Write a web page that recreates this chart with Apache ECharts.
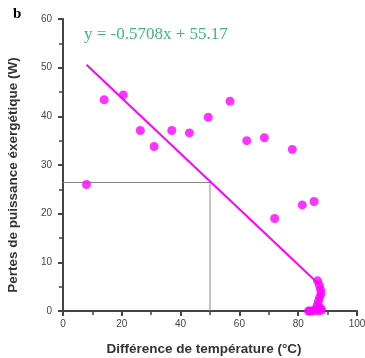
<!DOCTYPE html>
<html>
<head>
<meta charset="utf-8">
<script src="https://cdn.jsdelivr.net/npm/echarts@6/dist/echarts.min.js"></script>
<style>
  html, body { margin: 0; padding: 0; background: #fff; }
  #chart { width: 365px; height: 358px; }
</style>
</head>
<body>
<div id="chart"></div>
<script>
// measured points (temperature difference, exergy loss)
const tempDiff = [8, 14, 20.5, 26.3, 31, 37, 43, 49.4, 56.8, 62.5, 68.5, 78, 72, 81.4, 85.4,
  86.6, 87.2, 87.6, 87.8, 87.3, 86.9, 86.5, 87.6, 86, 85, 84, 83.5, 88, 86.8];
const exergyLoss = [26, 43.4, 44.4, 37.1, 33.8, 37.1, 36.6, 39.8, 43.1, 35, 35.6, 33.2, 19, 21.8, 22.5,
  6.2, 5.3, 4.4, 3.6, 2.8, 2, 1.2, 0.6, 0.4, 0, 0, 0, 0.2, 0];

// fitted line endpoints, y = -0.5708x + 55.17
const fitX = [8, 86.7];
const fitY = [50.6, 5.7];

// guide lines read at x = 50
const guideX = [0, 50, 50];
const guideY = [26.4, 26.4, 0];

const xTicks = [0, 20, 40, 60, 80, 100];
const yTicks = [0, 10, 20, 30, 40, 50, 60];

const chart = echarts.init(document.getElementById('chart'));

const axisCommon = {
  axisLine: { show: true, onZero: false, lineStyle: { color: '#444', width: 2 } },
  axisTick: { show: true, inside: false, length: 5, lineStyle: { color: '#444', width: 2 } },
  minorTick: { show: true, splitNumber: 2, length: 4, lineStyle: { color: '#444', width: 1.5 } },
  splitLine: { show: false },
  axisLabel: { color: '#444', fontSize: 10, fontFamily: 'Liberation Sans, Arial' }
};

chart.setOption({
  animation: false,
  backgroundColor: '#fff',
  title: [
    { text: 'b', left: 8, top: 2, textStyle: { fontFamily: 'Liberation Serif', fontWeight: 'bold', fontSize: 15, color: '#000' } },
    { text: 'y = -0.5708x + 55.17', left: 79, top: 21, textStyle: { fontFamily: 'Liberation Serif', fontWeight: 'normal', fontSize: 17, color: '#3cb878' } }
  ],
  grid: { left: 63, right: 8, top: 19, bottom: 47, outerBoundsMode: 'none', containLabel: false },
  xAxis: Object.assign({}, axisCommon, {
    type: 'value', min: xTicks[0], max: xTicks[xTicks.length - 1], interval: 20,
    name: 'Différence de température (°C)', nameLocation: 'middle', nameGap: 31,
    nameTextStyle: { color: '#333', fontSize: 13.5, fontWeight: 'bold', fontFamily: 'Liberation Sans, Arial', padding: [0, 12, 0, 0] }
  }),
  yAxis: Object.assign({}, axisCommon, {
    type: 'value', min: yTicks[0], max: yTicks[yTicks.length - 1], interval: 10,
    axisLabel: Object.assign({}, axisCommon.axisLabel, { margin: 11 }),
    name: 'Pertes de puissance éxergétique (W)', nameLocation: 'middle', nameGap: 43,
    nameTextStyle: { color: '#333', fontSize: 13.5, fontWeight: 'bold', fontFamily: 'Liberation Sans, Arial', padding: [0, 20, 0, 0] }
  }),
  series: [
    {
      type: 'line', data: guideX.map((x, i) => [x, guideY[i]]), symbol: 'none',
      lineStyle: { color: '#888', width: 1 }, z: 1
    },
    {
      type: 'line', data: fitX.map((x, i) => [x, fitY[i]]), symbol: 'none',
      lineStyle: { color: '#ff00ff', width: 2 }, z: 2
    },
    {
      type: 'scatter', data: tempDiff.map((x, i) => [x, exergyLoss[i]]),
      symbolSize: 9, itemStyle: { color: '#ff00ff' }, z: 3
    }
  ]
});
</script>
</body>
</html>
